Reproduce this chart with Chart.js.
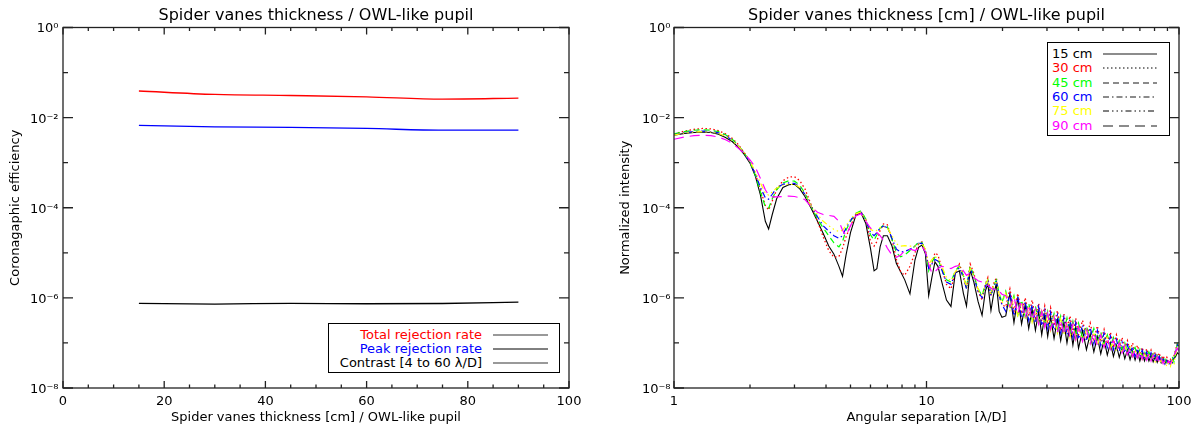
<!DOCTYPE html>
<html>
<head>
<meta charset="utf-8">
<title>Spider vanes thickness / OWL-like pupil</title>
<script src="https://cdn.jsdelivr.net/npm/chart.js@4.4.1/dist/chart.umd.min.js"></script>
<style>
  body { margin: 0; background: #fff; font-family: 'DejaVu Sans', sans-serif; }
  #page { position: relative; width: 1199px; height: 430px; overflow: hidden; }
  #page canvas { position: absolute; top: 0; }
  .legend { position: absolute; border: 1px solid #000; background: #fff; font-size: 13px; box-sizing: border-box; }
  .legend .row { position: absolute; left: 0; right: 0; height: 14px; line-height: 14px; white-space: nowrap; }
  .legend .row span { position: absolute; top: 0; }
  .legend .row svg { position: absolute; top: 5px; }
</style>
</head>
<body>
<div id="page">
  <canvas id="effChart" width="600" height="430" style="left:0"></canvas>
  <canvas id="psfChart" width="599" height="430" style="left:600px"></canvas>
  <div class="legend" id="effLegend" style="left:328px;top:323px;width:232px;height:50px"></div>
  <div class="legend" id="psfLegend" style="left:1047px;top:42px;width:123px;height:94px"></div>
</div>
<script>
// ---- left panel: coronagraphic efficiency vs spider vanes thickness
const thickness = [15, 30, 45, 60, 75, 90];
const totalRejection = [3.9e-2, 3.27e-2, 3.1e-2, 2.9e-2, 2.58e-2, 2.71e-2];
const peakRejection = [6.7e-3, 6.25e-3, 6.05e-3, 5.75e-3, 5.27e-3, 5.27e-3];
const contrast = [7.55e-7, 7.3e-7, 7.55e-7, 7.4e-7, 7.5e-7, 8.07e-7];

const effXTicks = [0, 5, 10, 15, 20, 25, 30, 35, 40, 45, 50, 55, 60, 65, 70, 75, 80, 85, 90, 95, 100];
const effXLabels = ['0', '', '', '', '20', '', '', '', '40', '', '', '', '60', '', '', '', '80', '', '', '', '100'];

// shared log y axis (both panels)
const decadeTicks = [1e-8, 1e-7, 1e-6, 1e-5, 1e-4, 1e-3, 1e-2, 1e-1, 1];
const decadeLabels = ['10⁻⁸', '', '10⁻⁶', '', '10⁻⁴', '', '10⁻²', '', '10⁰'];

// ---- right panel: radial profiles, angular separation in lambda/D
const sepTicks = [1, 2, 3, 4, 5, 6, 7, 8, 9, 10, 20, 30, 40, 50, 60, 70, 80, 90, 100];
const sepLabels = ['1', '', '', '', '', '', '', '', '', '10', '', '', '', '', '', '', '', '', '100'];

const separation = [
  1.0, 1.1, 1.2, 1.3, 1.4, 1.5, 1.6, 1.7, 1.8, 1.9,
  2.0, 2.1, 2.2, 2.3, 2.37, 2.45, 2.55, 2.7, 2.85, 3.0,
  3.15, 3.3, 3.5, 3.7, 3.9, 4.1, 4.3, 4.5, 4.65, 4.8,
  5.0, 5.25, 5.5, 5.75, 6.0, 6.2, 6.36, 6.55, 6.75, 7.0,
  7.3, 7.6, 7.9, 8.2, 8.6, 9.0, 9.3, 9.6, 9.9, 10.2,
  10.5, 10.8, 11.1, 11.5, 12.0, 12.5, 13.0, 13.5, 14.0, 14.4,
  14.9, 15.4, 16.0, 16.6, 17.1, 17.5, 18.0, 18.4, 18.9, 19.4,
  19.9,
  20.6, 21.4, 22.2, 23.0, 23.8, 24.6, 25.4, 26.2, 27.0, 27.8,
  28.6, 29.4, 30.2, 31.0, 32, 33, 34, 35, 36, 37,
  38, 39, 40, 41.5, 43, 44.5, 46, 47.5, 49, 50.5,
  52, 53.5, 55, 56.5, 58, 59.5, 61, 62.5, 64, 65.5,
  67, 68.5, 70, 71.5, 73, 74.5, 76, 77.5, 79, 80.5,
  82, 83.5, 85, 86.5, 88, 89.5, 91, 92.5, 94, 95.5,
  97, 98.5, 100
];

// log10 of the normalized intensity
const logInt15 = [
  -2.39, -2.35, -2.33, -2.32, -2.33, -2.37, -2.44, -2.53, -2.66, -2.82,
  -3.01, -3.30, -3.72, -4.30, -4.47, -4.15, -3.80, -3.55, -3.49, -3.48,
  -3.58, -3.75, -4.02, -4.30, -4.57, -4.85, -5.03, -5.30, -5.52, -5.05,
  -4.55, -4.17, -4.11, -4.35, -4.90, -5.40, -5.35, -4.87, -4.62, -4.62,
  -4.85, -5.24, -5.42, -5.60, -5.91, -5.16, -4.88, -4.83, -5.02, -5.95,
  -5.55, -5.20, -5.30, -5.65, -6.05, -6.19, -5.45, -5.40, -5.90, -6.18,
  -5.38, -5.65, -6.08, -6.39, -5.85, -5.69, -6.28, -5.95, -5.69, -6.30,
  -6.43,
  -6.40, -5.90, -6.55, -6.00, -6.58, -6.15, -6.68, -6.25, -6.72, -6.30,
  -6.82, -6.38, -6.86, -6.42, -6.90, -6.48, -6.95, -6.55, -7.00, -6.60,
  -7.05, -6.65, -7.12, -6.72, -7.15, -6.80, -7.20, -6.86, -7.24, -6.92,
  -7.27, -7.00, -7.30, -7.05, -7.32, -7.10, -7.35, -7.15, -7.37, -7.18,
  -7.38, -7.20, -7.40, -7.22, -7.40, -7.25, -7.40, -7.27, -7.42, -7.30,
  -7.43, -7.32, -7.44, -7.35, -7.45, -7.38, -7.45, -7.40, -7.44, -7.35,
  -7.30, -7.22, -7.25
];
const logInt30 = [
  -2.36, -2.30, -2.26, -2.24, -2.25, -2.29, -2.36, -2.46, -2.60, -2.78,
  -2.98, -3.25, -3.60, -3.95, -4.05, -3.85, -3.60, -3.40, -3.32, -3.31,
  -3.40, -3.58, -3.95, -4.30, -4.65, -4.95, -5.10, -5.08, -4.90, -4.65,
  -4.40, -4.15, -4.09, -4.25, -4.75, -4.85, -4.75, -4.50, -4.36, -4.38,
  -4.70, -5.15, -5.42, -5.50, -5.30, -5.00, -4.80, -4.76, -4.95, -5.30,
  -5.25, -5.00, -5.05, -5.35, -5.70, -5.80, -5.45, -5.25, -5.50, -5.80,
  -5.25, -5.45, -5.85, -6.05, -5.70, -5.55, -5.95, -5.70, -5.55, -5.95,
  -6.15,
  -6.20, -5.80, -6.30, -5.90, -6.35, -6.00, -6.40, -6.05, -6.45, -6.12,
  -6.52, -6.18, -6.58, -6.22, -6.62, -6.28, -6.68, -6.35, -6.72, -6.40,
  -6.78, -6.45, -6.82, -6.50, -6.88, -6.56, -6.92, -6.62, -6.98, -6.70,
  -7.02, -6.76, -7.06, -6.82, -7.10, -6.88, -7.14, -6.95, -7.18, -7.00,
  -7.22, -7.05, -7.25, -7.10, -7.28, -7.13, -7.30, -7.16, -7.32, -7.20,
  -7.34, -7.22, -7.38, -7.28, -7.40, -7.32, -7.42, -7.36, -7.40, -7.28,
  -7.15, -7.00, -7.08
];
const logInt45 = [
  -2.36, -2.31, -2.28, -2.27, -2.28, -2.31, -2.38, -2.48, -2.62, -2.79,
  -2.99, -3.28, -3.65, -3.98, -4.01, -3.80, -3.60, -3.45, -3.40, -3.41,
  -3.50, -3.68, -3.98, -4.25, -4.45, -4.62, -4.78, -4.87, -4.75, -4.50,
  -4.30, -4.12, -4.07, -4.25, -4.60, -4.72, -4.60, -4.45, -4.39, -4.42,
  -4.70, -5.00, -5.09, -5.05, -4.95, -4.85, -4.76, -4.77, -4.95, -5.40,
  -5.20, -5.10, -5.15, -5.35, -5.60, -5.65, -5.40, -5.30, -5.50, -5.75,
  -5.30, -5.50, -5.80, -5.95, -5.70, -5.60, -5.92, -5.75, -5.60, -5.90,
  -6.10,
  -5.85, -6.25, -5.95, -6.38, -6.05, -6.42, -6.12, -6.48, -6.18, -6.52,
  -6.25, -6.58, -6.30, -6.64, -6.35, -6.70, -6.40, -6.74, -6.45, -6.80,
  -6.52, -6.84, -6.56, -6.88, -6.62, -6.93, -6.68, -6.98, -6.75, -7.03,
  -6.82, -7.08, -6.88, -7.12, -6.95, -7.15, -7.00, -7.20, -7.05, -7.23,
  -7.10, -7.27, -7.14, -7.30, -7.18, -7.32, -7.20, -7.34, -7.24, -7.36,
  -7.27, -7.38, -7.32, -7.42, -7.36, -7.44, -7.38, -7.46, -7.30, -7.42,
  -7.18, -7.02, -7.12
];
const logInt60 = [
  -2.38, -2.33, -2.31, -2.30, -2.31, -2.34, -2.40, -2.50, -2.63, -2.79,
  -2.99, -3.25, -3.55, -3.78, -3.81, -3.70, -3.56, -3.48, -3.45, -3.46,
  -3.54, -3.70, -3.98, -4.20, -4.40, -4.52, -4.62, -4.68, -4.62, -4.45,
  -4.28, -4.13, -4.10, -4.28, -4.55, -4.62, -4.55, -4.45, -4.41, -4.44,
  -4.68, -4.92, -4.98, -4.97, -4.92, -4.85, -4.79, -4.79, -4.95, -5.35,
  -5.25, -5.15, -5.18, -5.38, -5.65, -5.70, -5.45, -5.33, -5.55, -5.80,
  -5.35, -5.55, -5.85, -6.00, -5.75, -5.62, -5.95, -5.78, -5.62, -5.95,
  -6.15,
  -6.30, -5.88, -6.40, -5.98, -6.45, -6.08, -6.50, -6.15, -6.56, -6.20,
  -6.62, -6.28, -6.68, -6.32, -6.72, -6.38, -6.78, -6.43, -6.82, -6.48,
  -6.88, -6.55, -6.92, -6.60, -6.96, -6.66, -7.02, -6.72, -7.06, -6.78,
  -7.10, -6.85, -7.15, -6.92, -7.18, -6.98, -7.22, -7.04, -7.26, -7.08,
  -7.30, -7.12, -7.32, -7.16, -7.34, -7.20, -7.36, -7.22, -7.38, -7.26,
  -7.40, -7.30, -7.44, -7.35, -7.47, -7.40, -7.48, -7.42, -7.44, -7.33,
  -7.20, -7.05, -7.15
];
const logInt75 = [
  -2.39, -2.34, -2.32, -2.31, -2.32, -2.35, -2.41, -2.51, -2.63, -2.78,
  -2.97, -3.20, -3.45, -3.68, -3.72, -3.65, -3.56, -3.50, -3.48, -3.48,
  -3.55, -3.70, -3.98, -4.15, -4.30, -4.40, -4.48, -4.53, -4.50, -4.40,
  -4.25, -4.13, -4.10, -4.28, -4.48, -4.52, -4.50, -4.44, -4.42, -4.45,
  -4.62, -4.80, -4.85, -4.84, -4.85, -4.85, -4.80, -4.80, -4.92, -5.25,
  -5.15, -5.08, -5.12, -5.30, -5.55, -5.62, -5.42, -5.32, -5.52, -5.75,
  -5.35, -5.52, -5.80, -5.95, -5.72, -5.60, -5.92, -5.75, -5.62, -5.92,
  -6.12,
  -5.90, -6.28, -6.00, -6.42, -6.10, -6.48, -6.18, -6.54, -6.25, -6.60,
  -6.30, -6.66, -6.36, -6.72, -6.42, -6.78, -6.48, -6.82, -6.52, -6.88,
  -6.58, -6.92, -6.64, -6.96, -6.70, -7.00, -6.76, -7.05, -6.82, -7.10,
  -6.88, -7.14, -6.95, -7.18, -7.00, -7.22, -7.06, -7.26, -7.10, -7.30,
  -7.15, -7.34, -7.18, -7.36, -7.22, -7.38, -7.25, -7.40, -7.28, -7.42,
  -7.32, -7.45, -7.38, -7.48, -7.42, -7.52, -7.45, -7.52, -7.36, -7.48,
  -7.24, -7.10, -7.20
];
const logInt90 = [
  -2.48, -2.43, -2.40, -2.39, -2.40, -2.43, -2.49, -2.57, -2.68, -2.80,
  -2.94, -3.10, -3.35, -3.60, -3.72, -3.76, -3.76, -3.75, -3.74, -3.75,
  -3.78, -3.82, -3.98, -4.10, -4.15, -4.17, -4.19, -4.30, -4.50, -4.62,
  -4.40, -4.18, -4.13, -4.30, -4.45, -4.50, -4.55, -4.62, -4.72, -4.90,
  -5.05, -5.10, -5.05, -4.95, -4.92, -4.95, -4.90, -4.85, -4.98, -5.25,
  -5.45, -5.42, -5.35, -5.30, -5.32, -5.35, -5.30, -5.28, -5.40, -5.50,
  -5.45, -5.55, -5.62, -5.65, -5.68, -5.72, -5.78, -5.82, -5.80, -5.85,
  -5.92,
  -5.95, -6.20, -5.98, -6.35, -6.05, -6.45, -6.15, -6.50, -6.25, -6.58,
  -6.30, -6.65, -6.35, -6.70, -6.42, -6.76, -6.48, -6.82, -6.52, -6.88,
  -6.58, -6.92, -6.64, -6.97, -6.70, -7.02, -6.76, -7.06, -6.82, -7.10,
  -6.88, -7.14, -6.94, -7.18, -7.00, -7.22, -7.05, -7.26, -7.10, -7.30,
  -7.14, -7.33, -7.18, -7.36, -7.21, -7.38, -7.24, -7.40, -7.27, -7.42,
  -7.30, -7.44, -7.34, -7.46, -7.37, -7.47, -7.40, -7.46, -7.36, -7.28,
  -7.20, -7.12, -7.18
];

Chart.defaults.font.family = "'DejaVu Sans', sans-serif";
Chart.defaults.color = '#000';

// IDL-like box with inward tick marks on all four sides
const idlFrame = {
  id: 'idlFrame',
  afterDraw(chart) {
    const { ctx, chartArea: a, scales: { x, y } } = chart;
    ctx.save();
    ctx.strokeStyle = '#222';
    ctx.lineWidth = 1.3;
    ctx.beginPath();
    x.ticks.forEach(t => {
      const px = x.getPixelForValue(t.value);
      const len = t.label ? 7 : 3.6;
      ctx.moveTo(px, a.bottom); ctx.lineTo(px, a.bottom - len);
      ctx.moveTo(px, a.top); ctx.lineTo(px, a.top + len);
    });
    y.ticks.forEach(t => {
      const py = y.getPixelForValue(t.value);
      const len = t.label ? 10 : 5;
      ctx.moveTo(a.left, py); ctx.lineTo(a.left + len, py);
      ctx.moveTo(a.right, py); ctx.lineTo(a.right - len, py);
    });
    ctx.stroke();
    ctx.strokeRect(a.left, a.top, a.right - a.left, a.bottom - a.top);
    ctx.restore();
  }
};

function logAxis(width, pad, titleText, titlePad) {
  return {
    type: 'logarithmic', min: 1e-8, max: 1,
    grid: { display: false, drawTicks: false }, border: { display: false },
    afterBuildTicks: s => { s.ticks = decadeTicks.map(v => ({ value: v })); },
    ticks: { autoSkip: false, padding: pad, labelOffset: 1.5, font: { size: 13 },
      callback: (v, i) => decadeLabels[i] },
    title: { display: true, text: titleText, font: { size: 13 }, padding: { top: titlePad, bottom: 0 } },
    afterFit: s => { s.width = width; }
  };
}

function baseOptions(titleText, padRight) {
  return {
    responsive: false, animation: false, devicePixelRatio: 1,
    layout: { padding: { left: 0, right: padRight, top: 0, bottom: 0 } },
    elements: { point: { radius: 0 }, line: { borderWidth: 1, tension: 0 } },
    plugins: {
      legend: { display: false }, tooltip: { enabled: false },
      title: { display: true, text: titleText, fullSize: false, color: '#000',
        font: { size: 16, weight: 'normal' }, padding: { top: 6, bottom: 2.3 } }
    }
  };
}

// left panel
const effSeries = [
  { label: 'Total rejection rate', values: totalRejection, color: '#ff0000', legendLine: '#777' },
  { label: 'Peak rejection rate', values: peakRejection, color: '#0000ff', legendLine: '#000' },
  { label: 'Contrast [4 to 60 λ/D]', values: contrast, color: '#000000', legendLine: '#777' }
];

const effOpts = baseOptions('Spider vanes thickness / OWL-like pupil', 31);
effOpts.scales = {
  x: {
    type: 'linear', min: 0, max: 100,
    grid: { display: false, drawTicks: false }, border: { display: false },
    afterBuildTicks: s => { s.ticks = effXTicks.map(v => ({ value: v })); },
    ticks: { autoSkip: false, maxRotation: 0, padding: 5.9, font: { size: 13 },
      callback: (v, i) => effXLabels[i] },
    title: { display: true, text: 'Spider vanes thickness [cm] / OWL-like pupil', font: { size: 13 },
      padding: { top: 0, bottom: 4.5 } },
    afterFit: s => { s.height = 42; }
  },
  y: logAxis(63, 4.5, 'Coronagaphic efficiency', 8.2)
};

new Chart(document.getElementById('effChart'), {
  type: 'line',
  data: {
    datasets: effSeries.map(s => ({
      label: s.label,
      data: thickness.map((t, i) => ({ x: t, y: s.values[i] })),
      borderColor: s.color,
      borderWidth: 1.3,
      cubicInterpolationMode: 'monotone'
    }))
  },
  options: effOpts,
  plugins: [idlFrame]
});

// right panel
const psfSeries = [
  { label: '15 cm', values: logInt15, color: '#000000', dash: [], legendLine: '#666', width: 1.1 },
  { label: '30 cm', values: logInt30, color: '#ff0000', dash: [1.5, 2.5], legendLine: '#000', width: 1.3 },
  { label: '45 cm', values: logInt45, color: '#00ff00', dash: [6, 4], legendLine: '#666', width: 1.2 },
  { label: '60 cm', values: logInt60, color: '#0000ff', dash: [6, 3, 1.5, 3], legendLine: '#666', width: 1.2 },
  { label: '75 cm', values: logInt75, color: '#ffff00', dash: [6, 3, 1.5, 3, 1.5, 3, 1.5, 3], legendLine: '#000', width: 1.2 },
  { label: '90 cm', values: logInt90, color: '#ff00ff', dash: [10, 6], legendLine: '#666', width: 1.2 }
];

const psfOpts = baseOptions('Spider vanes thickness [cm] / OWL-like pupil', 20);
psfOpts.scales = {
  x: {
    type: 'logarithmic', min: 1, max: 100,
    grid: { display: false, drawTicks: false }, border: { display: false },
    afterBuildTicks: s => { s.ticks = sepTicks.map(v => ({ value: v })); },
    ticks: { autoSkip: false, maxRotation: 0, padding: 5.9, font: { size: 13 },
      callback: (v, i) => sepLabels[i] },
    title: { display: true, text: 'Angular separation [λ/D]', font: { size: 13 },
      padding: { top: 0, bottom: 4.5 } },
    afterFit: s => { s.height = 42; }
  },
  y: logAxis(74, 3.5, 'Normalized intensity', 18.2)
};

new Chart(document.getElementById('psfChart'), {
  type: 'line',
  data: {
    datasets: psfSeries.map((s, k) => ({
      label: s.label,
      data: separation.map((sep, i) => ({ x: sep, y: 10 ** s.values[i] })),
      borderColor: s.color,
      borderWidth: s.width,
      borderDash: s.dash,
      order: psfSeries.length - k
    }))
  },
  options: psfOpts,
  plugins: [idlFrame]
});

// legends (html text, line samples in svg)
function buildLegend(boxId, items, o) {
  const box = document.getElementById(boxId);
  items.forEach((it, k) => {
    const row = document.createElement('div');
    row.className = 'row';
    row.style.top = (o.firstRow + k * o.rowStep - 7) + 'px';
    const span = document.createElement('span');
    span.textContent = it.label;
    span.style.color = it.textColor;
    if (o.textRight != null) span.style.right = o.textRight + 'px';
    else span.style.left = o.textLeft + 'px';
    row.appendChild(span);
    const w = o.lineTo - o.lineFrom;
    const dash = it.dash && it.dash.length ? it.dash.join(' ') : 'none';
    row.insertAdjacentHTML('beforeend',
      `<svg width="${w}" height="4" style="left:${o.lineFrom}px"><line x1="0" y1="2" x2="${w}" y2="2" stroke="${it.legendLine}" stroke-width="${it.legendLine === '#000' ? 1 : 1.6}" stroke-dasharray="${dash}"/></svg>`);
    box.appendChild(row);
  });
}

buildLegend('effLegend', effSeries.map(s => ({ label: s.label, textColor: s.color, legendLine: s.legendLine, dash: [] })),
  { firstRow: 11, rowStep: 14, textRight: 77, lineFrom: 164, lineTo: 219 });

buildLegend('psfLegend', psfSeries.map(s => ({ label: s.label, textColor: s.color, legendLine: s.legendLine, dash: s.dash })),
  { firstRow: 11, rowStep: 14.3, textLeft: 4, lineFrom: 55, lineTo: 109 });
</script>
</body>
</html>
